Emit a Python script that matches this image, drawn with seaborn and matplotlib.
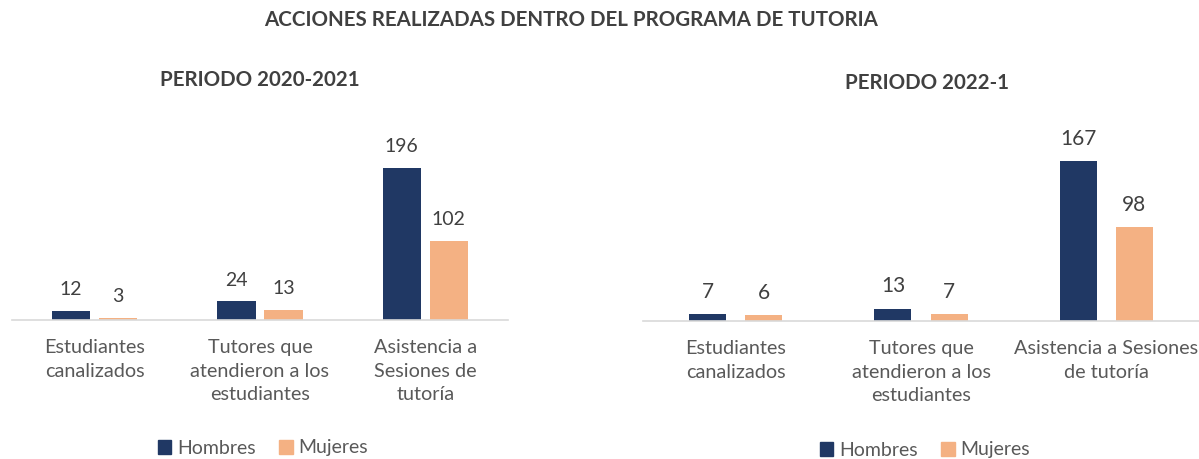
import matplotlib
matplotlib.use("Agg")
import matplotlib.pyplot as plt
import seaborn as sns
import pandas as pd
from matplotlib.patches import Patch

sns.set_style("white")
plt.rcParams['font.family'] = ['Lato', 'DejaVu Sans']

categories_left = ["Estudiantes\ncanalizados", "Tutores que\natendieron a los\nestudiantes",
                   "Asistencia a\nSesiones de\ntutoría"]
categories_right = ["Estudiantes\ncanalizados", "Tutores que\natendieron a los\nestudiantes",
                    "Asistencia a Sesiones\nde tutoría"]
series = ["Hombres", "Mujeres"]
hombres_2020 = [12, 24, 196]
mujeres_2020 = [3, 13, 102]
hombres_2022 = [7, 13, 167]
mujeres_2022 = [6, 7, 98]

main_title = "ACCIONES REALIZADAS DENTRO DEL PROGRAMA DE TUTORIA"
title_left = "PERIODO 2020-2021"
title_right = "PERIODO 2022-1"

colors = {"Hombres": "#203864", "Mujeres": "#F4B183"}
W, H = 1199, 459
fig = plt.figure(figsize=(W / 100, H / 100), dpi=100)


def make_df(cats, h, m):
    rows = []
    for c, v in zip(cats, h):
        rows.append({"cat": c, "serie": "Hombres", "val": v})
    for c, v in zip(cats, m):
        rows.append({"cat": c, "serie": "Mujeres", "val": v})
    return pd.DataFrame(rows)


def panel(rect, cats, h, m, ylim, width, gap, ticks, fs_val):
    ax = fig.add_axes(rect)
    df = make_df(cats, h, m)
    sns.barplot(data=df, x="cat", y="val", hue="serie", order=cats, hue_order=series,
                palette=colors, width=width, gap=gap, ax=ax, legend=False,
                saturation=1, linewidth=0, errorbar=None)
    ax.set_xlim(-0.5, 2.5)
    ax.set_ylim(*ylim)
    for cont in ax.containers:
        ax.bar_label(cont, padding=9, fontsize=fs_val, color="#404040")
    for s in ["top", "right", "left"]:
        ax.spines[s].set_visible(False)
    ax.spines["bottom"].set_color("#D9D9D9")
    ax.spines["bottom"].set_linewidth(1.2)
    ax.set_yticks([])
    ax.set_xlabel("")
    ax.set_ylabel("")
    ax.set_xticks(range(3))
    ax.set_xticklabels(cats, fontsize=14.3, color="#595959", linespacing=1.45)
    ax.tick_params(axis="x", which="major", length=0, pad=14)
    if ticks:
        ax.set_xticks([-0.5, 0.5, 1.5, 2.5], minor=True)
        ax.tick_params(axis="x", which="minor", length=6, color="#D9D9D9", width=1.2,
                       direction="out")
    handles = [Patch(color=colors[s], label=s) for s in series]
    return ax, handles


axL, hL = panel([12 / W, 1 - 320 / H, 496 / W, 171 / H], categories_left,
                hombres_2020, mujeres_2020, (0, 220), 0.57, 0.19, True, 14)
axR, hR = panel([643 / W, 1 - 321 / H, 556 / W, 191.6 / H], categories_right,
                hombres_2022, mujeres_2022, (0, 200), 0.605, 0.34, False, 15)

fig.legend(handles=hL, loc="center", bbox_to_anchor=(263 / W, 1 - 448 / H), ncol=2,
           frameon=False, fontsize=14, handlelength=0.7, handleheight=0.7,
           handletextpad=0.3, columnspacing=1.2, labelcolor="#595959")
fig.legend(handles=hR, loc="center", bbox_to_anchor=(925 / W, 1 - 450 / H), ncol=2,
           frameon=False, fontsize=14, handlelength=0.7, handleheight=0.7,
           handletextpad=0.3, columnspacing=1.2, labelcolor="#595959")

fig.text(571 / W, 1 - 20 / H, main_title, ha="center", va="center", fontsize=14.8,
         fontweight="bold", color="#404040")
fig.text(260 / W, 1 - 80 / H, title_left, ha="center", va="center", fontsize=14.8,
         fontweight="bold", color="#404040")
fig.text(927 / W, 1 - 83 / H, title_right, ha="center", va="center", fontsize=14.8,
         fontweight="bold", color="#404040")

fig.savefig("out.png", dpi=100)
